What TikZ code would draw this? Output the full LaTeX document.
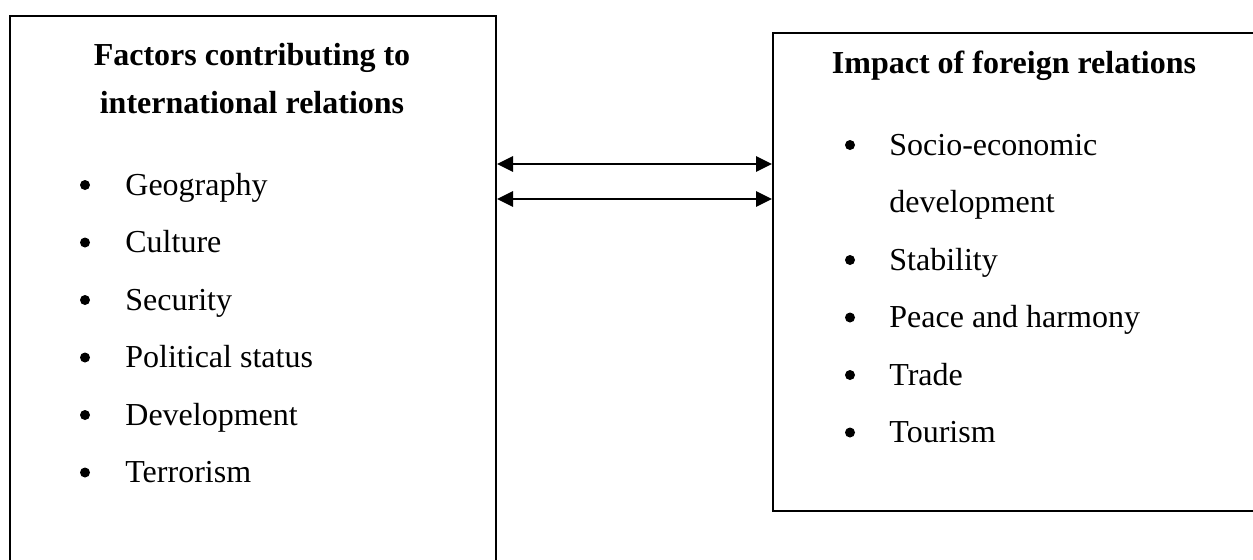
\documentclass[tikz,border=0pt]{standalone}
\usepackage{fontspec}
\setmainfont{Liberation Serif}
\usetikzlibrary{arrows.meta}
\begin{document}
\begin{tikzpicture}[x=0.5pt,y=-0.5pt,
  box/.style={draw=black,line width=1pt,anchor=north west,inner sep=0pt,rectangle},
  head/.style={anchor=base,inner sep=0pt,font=\fontsize{16pt}{19pt}\selectfont\bfseries},
  item/.style={anchor=base west,inner sep=0pt,font=\fontsize{16pt}{19pt}\selectfont},
  dot/.style={circle,fill=black,inner sep=0pt,minimum size=5pt},
  arr/.style={line width=1.4pt,{Triangle[length=8pt,width=7.5pt]}-{Triangle[length=8pt,width=7.5pt]}}]
\useasboundingbox (0,0) rectangle (1253,559);
\clip (0,0) rectangle (1253,559);
\fill[white] (0,0) rectangle (1253,559);
% boxes
\node[box,minimum width=243pt,minimum height=295pt] (lbox) at (9,15) {};
\node[box,minimum width=250pt,minimum height=239pt] (rbox) at (772,32) {};
% headings
\node[head] (lh1) at (252,65) {Factors contributing to};
\node[head] (lh2) at (252,113) {international relations};
\node[head] (rh) at (1014,73) {Impact of foreign relations};
% left items
\node[dot] (ld1) at (85,185) {};
\node[item] (l1) at (125,195) {Geography};
\node[dot] (ld2) at (85,242.5) {};
\node[item] (l2) at (125,252.5) {Culture};
\node[dot] (ld3) at (85,300) {};
\node[item] (l3) at (125,310) {Security};
\node[dot] (ld4) at (85,357.5) {};
\node[item] (l4) at (125,367.5) {Political status};
\node[dot] (ld5) at (85,415) {};
\node[item] (l5) at (125,425) {Development};
\node[dot] (ld6) at (85,472.5) {};
\node[item] (l6) at (125,482.5) {Terrorism};
% right items
\node[dot] (rd1) at (850,145) {};
\node[item] (r1) at (889,155) {Socio-economic};
\node[item] (r1b) at (889,212.5) {development};
\node[dot] (rd2) at (850,260) {};
\node[item] (r2) at (889,270) {Stability};
\node[dot] (rd3) at (850,317.5) {};
\node[item] (r3) at (889,327.5) {Peace and harmony};
\node[dot] (rd4) at (850,375) {};
\node[item] (r4) at (889,385) {Trade};
\node[dot] (rd5) at (850,432.5) {};
\node[item] (r5) at (889,442.5) {Tourism};
% arrows
\draw[arr] (lbox.east |- 0,164) -- (rbox.west |- 0,164);
\draw[arr] (lbox.east |- 0,199) -- (rbox.west |- 0,199);
\end{tikzpicture}
\end{document}
